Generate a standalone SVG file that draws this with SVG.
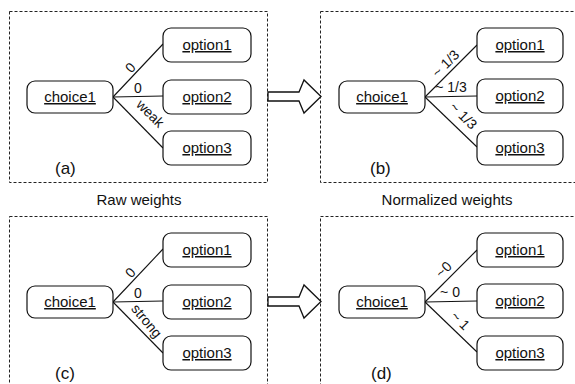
<svg xmlns="http://www.w3.org/2000/svg" width="575" height="384" viewBox="0 0 575 384">
  <style>
    text { font-family: "Liberation Sans", Arial, sans-serif; fill: #111; }
    .frame { fill: none; stroke: #222; stroke-width: 1; stroke-dasharray: 3 2; }
    .box { fill: #fff; stroke: #111; stroke-width: 1.2; }
    .name { font-size: 15px; text-anchor: middle; text-decoration: underline; }
    .lbl { font-size: 14px; text-anchor: middle; }
    .tag { font-size: 17px; }
    .cap { font-size: 15px; text-anchor: middle; }
    .edge { stroke: #111; stroke-width: 1.1; fill: none; }
    .big { fill: #fff; stroke: #111; stroke-width: 1.3; stroke-linejoin: miter; }
  </style>
  <defs>
    <path id="bigArrow" d="M0,-4.5 H31 L36,-16.5 L53,0 L36,16.5 L31,4.5 H0 Z"/>
  </defs>

  <rect width="575" height="384" fill="#fff"/>

  <!-- panel frames -->
  <g id="frames">
    <rect class="frame" x="9.5" y="11.5" width="258" height="171"/>
    <rect class="frame" x="320.5" y="11.5" width="270" height="171"/>
    <rect class="frame" x="9.5" y="216.5" width="258" height="200"/>
    <rect class="frame" x="320.5" y="216.5" width="270" height="200"/>
  </g>

  <!-- transition arrows -->
  <g id="transitions">
    <use href="#bigArrow" class="big" x="268" y="96.5"/>
    <use href="#bigArrow" class="big" x="268" y="301.5"/>
  </g>

  <!-- connectors -->
  <g id="connectors">
    <line class="edge" x1="113" y1="97" x2="163" y2="44"/>
    <line class="edge" x1="113" y1="97" x2="163" y2="96"/>
    <line class="edge" x1="113" y1="97" x2="163" y2="148"/>

    <line class="edge" x1="425" y1="97" x2="477" y2="45"/>
    <line class="edge" x1="425" y1="97" x2="477" y2="96"/>
    <line class="edge" x1="425" y1="97" x2="477" y2="147"/>

    <line class="edge" x1="113" y1="302" x2="163" y2="249"/>
    <line class="edge" x1="113" y1="302" x2="163" y2="301"/>
    <line class="edge" x1="113" y1="302" x2="163" y2="353"/>

    <line class="edge" x1="425" y1="302" x2="477" y2="250"/>
    <line class="edge" x1="425" y1="302" x2="477" y2="301"/>
    <line class="edge" x1="425" y1="302" x2="477" y2="352"/>
  </g>

  <!-- connector labels -->
  <g id="edge-labels">
    <text class="lbl" transform="translate(134,71) rotate(-47)">0</text>
    <text class="lbl" x="138" y="93">0</text>
    <text class="lbl" transform="translate(147,117) rotate(45)">weak</text>

    <text class="lbl" transform="translate(449,67) rotate(-45)">~ 1/3</text>
    <text class="lbl" x="451" y="92">~ 1/3</text>
    <text class="lbl" transform="translate(460,119) rotate(45)">~ 1/3</text>

    <text class="lbl" transform="translate(134,276) rotate(-47)">0</text>
    <text class="lbl" x="138" y="298">0</text>
    <text class="lbl" transform="translate(143,324) rotate(50)">strong</text>

    <text class="lbl" transform="translate(447,273) rotate(-45)">~0</text>
    <text class="lbl" x="450" y="297">~ 0</text>
    <text class="lbl" transform="translate(457,324) rotate(45)">~ 1</text>
  </g>

  <!-- panel (a) -->
  <g id="a-choice1"><rect class="box" x="27" y="81" width="86" height="32" rx="8"/><text class="name" x="70" y="102">choice1</text></g>
  <g id="a-option1"><rect class="box" x="163" y="28" width="88" height="34" rx="8"/><text class="name" x="207" y="50">option1</text></g>
  <g id="a-option2"><rect class="box" x="163" y="80" width="88" height="34" rx="8"/><text class="name" x="207" y="102">option2</text></g>
  <g id="a-option3"><rect class="box" x="163" y="131" width="88" height="34" rx="8"/><text class="name" x="207" y="153">option3</text></g>

  <!-- panel (b) -->
  <g id="b-choice1"><rect class="box" x="339" y="81" width="86" height="32" rx="8"/><text class="name" x="382" y="102">choice1</text></g>
  <g id="b-option1"><rect class="box" x="477" y="28" width="86" height="34" rx="8"/><text class="name" x="520" y="50">option1</text></g>
  <g id="b-option2"><rect class="box" x="477" y="79" width="86" height="34" rx="8"/><text class="name" x="520" y="101">option2</text></g>
  <g id="b-option3"><rect class="box" x="477" y="131" width="86" height="34" rx="8"/><text class="name" x="520" y="153">option3</text></g>

  <!-- panel (c) -->
  <g id="c-choice1"><rect class="box" x="27" y="286" width="86" height="32" rx="8"/><text class="name" x="70" y="307">choice1</text></g>
  <g id="c-option1"><rect class="box" x="163" y="233" width="88" height="34" rx="8"/><text class="name" x="207" y="255">option1</text></g>
  <g id="c-option2"><rect class="box" x="163" y="285" width="88" height="34" rx="8"/><text class="name" x="207" y="307">option2</text></g>
  <g id="c-option3"><rect class="box" x="163" y="336" width="88" height="34" rx="8"/><text class="name" x="207" y="358">option3</text></g>

  <!-- panel (d) -->
  <g id="d-choice1"><rect class="box" x="339" y="286" width="86" height="32" rx="8"/><text class="name" x="382" y="307">choice1</text></g>
  <g id="d-option1"><rect class="box" x="477" y="233" width="86" height="34" rx="8"/><text class="name" x="520" y="255">option1</text></g>
  <g id="d-option2"><rect class="box" x="477" y="284" width="86" height="34" rx="8"/><text class="name" x="520" y="306">option2</text></g>
  <g id="d-option3"><rect class="box" x="477" y="336" width="86" height="34" rx="8"/><text class="name" x="520" y="358">option3</text></g>

  <!-- panel tags and captions -->
  <g id="captions">
    <text class="tag" x="55" y="174">(a)</text>
    <text class="tag" x="370" y="174">(b)</text>
    <text class="tag" x="55" y="379">(c)</text>
    <text class="tag" x="371" y="379">(d)</text>
    <text class="cap" x="139" y="205">Raw weights</text>
    <text class="cap" x="447" y="205">Normalized weights</text>
  </g>
</svg>
